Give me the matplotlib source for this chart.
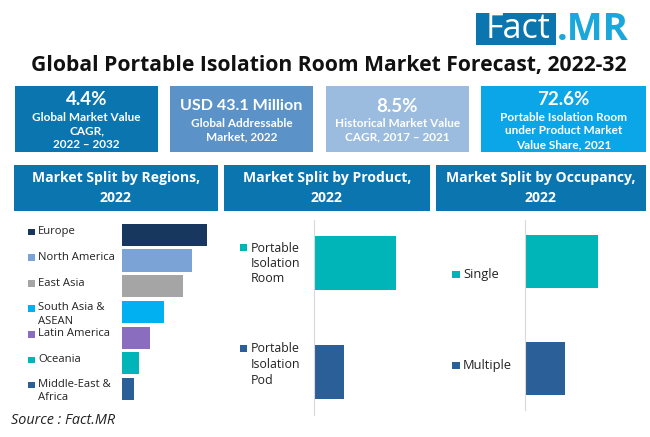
import matplotlib
matplotlib.use("Agg")
import matplotlib.pyplot as plt
from matplotlib.patches import Rectangle

plt.rcParams['font.family'] = ['Lato', 'DejaVu Sans']

#Chart data
regions = ["Europe", "North America", "East Asia", "South Asia &\nASEAN", "Latin America", "Oceania", "Middle-East &\nAfrica"]
region_values = [85, 70, 61, 42, 28, 17, 12]
region_colors = ["#17375E", "#7BA3D6", "#A5A5A5", "#00B0F0", "#8A6DBE", "#00B5B8", "#2A5F98"]

products = ["Portable\nIsolation\nRoom", "Portable\nIsolation\nPod"]
product_values = [82, 30]

occupancy = ["Single", "Multiple"]
occupancy_values = [73, 40]

pair_colors = ["#00B5B8", "#2A5F98"]

title = "Global Portable Isolation Room Market Forecast, 2022-32"
source = "Source : Fact.MR"

stat_big = ["4.4%", "USD 43.1 Million", "8.5%", "72.6%"]
stat_small = ["Global Market Value\nCAGR,\n2022 – 2032",
              "Global Addressable\nMarket, 2022",
              "Historical Market Value\nCAGR, 2017 – 2021",
              "Portable Isolation Room\nunder Product Market\nValue Share, 2021"]
stat_colors = ["#0B75AF", "#5B93C8", "#9BBCDE", "#0BA6E8"]

headers = ["Market Split by Regions,\n2022", "Market Split by Product,\n2022", "Market Split by Occupancy,\n2022"]
blue = "#0B75AF"

W, H = 650, 437
fig = plt.figure(figsize=(6.5, 4.37), dpi=100, facecolor="white")

#Full page axes in pixel coordinates for boxes and text
page = fig.add_axes([0, 0, 1, 1])
page.set_xlim(0, W)
page.set_ylim(H, 0)
page.axis("off")

def box(x0, y0, x1, y1, color):
    page.add_patch(Rectangle((x0, y0), x1 - x0, y1 - y0, facecolor=color, edgecolor="none"))

#Logo
box(476, 13, 556, 45, blue)
page.text(518, 29.5, "Fact", color="white", fontsize=24.5, ha="center", va="center", family=["Open Sans"])
page.text(593, 29.5, ".MR", color="#1AA7DC", fontsize=27.5, weight="bold", ha="center", va="center", family=["Open Sans"])

page.text(328.5, 66, title, color="#111111", fontsize=15.2, weight="bold", ha="center", va="center", family=["Open Sans"])

#Stat boxes
stat_x = [(15, 158), (170, 313), (325.5, 469), (481, 645.5)]
big_y = [99.5, 106, 106, 99.5]
small_y = [131, 130, 130, 131]
for i in range(4):
    box(stat_x[i][0], 86, stat_x[i][1], 152, stat_colors[i])
    xc = sum(stat_x[i]) / 2
    big_size = 13.5 if i != 1 else 11.6
    page.text(xc, big_y[i], stat_big[i], color="white", fontsize=big_size, weight="bold", ha="center", va="center")
    page.text(xc, small_y[i], stat_small[i], color="white", fontsize=8.5, weight="bold",
              ha="center", va="center", linespacing=1.33)

#Section headers
head_x = [(14, 218), (224, 430), (436, 646)]
for i in range(3):
    box(head_x[i][0], 165, head_x[i][1], 211, blue)
    page.text(sum(head_x[i]) / 2, 188, headers[i], color="white", fontsize=10.1, weight="bold",
              ha="center", va="center", linespacing=1.55, family=["Open Sans"])

def px_axes(x0, y0, x1, y1):
    a = fig.add_axes([x0 / W, 1 - y1 / H, (x1 - x0) / W, (y1 - y0) / H])
    a.patch.set_alpha(0)
    a.set_xticks([])
    a.set_yticks([])
    for s in a.spines.values():
        s.set_visible(False)
    return a

#Regions
ax1 = px_axes(122, 221.9, 222, 401.9)
ax1.barh(range(len(regions)), region_values, height=0.86, color=region_colors)
ax1.set_xlim(0, 100)
ax1.set_ylim(len(regions) - 0.5, -0.5)

reg_y = [231.5, 257, 283, 314.5, 334, 359.5, 391]
for i, name in enumerate(regions):
    first_y = reg_y[i] - 6.5 if "\n" in name else reg_y[i]
    box(28, first_y - 3, 35, first_y + 3.5, region_colors[i])
    page.text(38, reg_y[i], name, color="#222222", fontsize=8.1, ha="left", va="center", linespacing=1.32, family=["Open Sans"])

#Product
ax2 = px_axes(314, 220, 414, 415)
ax2.barh(range(2), product_values, height=0.495, color=pair_colors)
ax2.set_xlim(0, 100)
ax2.set_ylim(1.394, -0.394)
ax2.spines["left"].set_visible(True)
ax2.spines["left"].set_color("#D9D9D9")

prod_y = [263.5, 364.5]
for i, name in enumerate(products):
    box(240, prod_y[i] - 20, 247, prod_y[i] - 13, pair_colors[i])
    page.text(251, prod_y[i], name, color="#222222", fontsize=8.9, ha="left", va="center", linespacing=1.25, family=["Open Sans"])

#Occupancy
ax3 = px_axes(525, 220, 625, 410)
ax3.barh(range(2), occupancy_values, height=0.49, color=pair_colors)
ax3.set_xlim(0, 100)
ax3.set_ylim(1.39, -0.39)
ax3.spines["left"].set_visible(True)
ax3.spines["left"].set_color("#D9D9D9")

occ_y = [274, 365]
for i, name in enumerate(occupancy):
    box(452, occ_y[i] - 3.5, 460, occ_y[i] + 3.5, pair_colors[i])
    page.text(463, occ_y[i] + 0.5, name, color="#222222", fontsize=9.3, ha="left", va="center", family=["Open Sans"])

page.text(11, 421, source, color="#222222", fontsize=10.4, style="italic", ha="left", va="center", family=["Open Sans"])

fig.savefig("out.png", dpi=100)
